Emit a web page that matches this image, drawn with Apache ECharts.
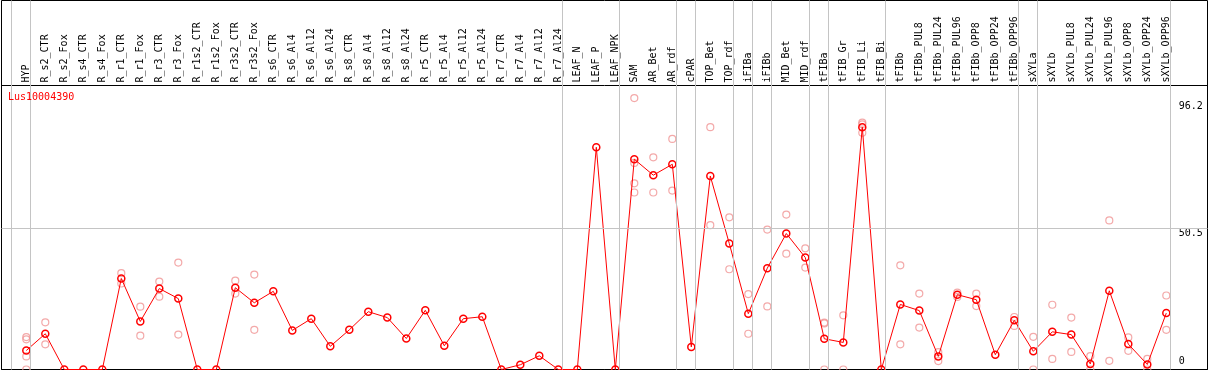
<!DOCTYPE html>
<html>
<head>
<meta charset="utf-8">
<script src="https://cdn.jsdelivr.net/npm/echarts@6/dist/echarts.min.js"></script>
<style>
html, body { margin: 0; padding: 0; background: #fff; }
#chart { width: 1209px; height: 370px; }
</style>
</head>
<body>
<div id="chart"></div>
<script>
const geneName = 'Lus10004390';

const categories = [
  'HYP', 'R_s2_CTR', 'R_s2_Fox', 'R_s4_CTR', 'R_s4_Fox', 'R_r1_CTR', 'R_r1_Fox', 'R_r3_CTR', 'R_r3_Fox',
  'R_r1s2_CTR', 'R_r1s2_Fox', 'R_r3s2_CTR', 'R_r3s2_Fox',
  'R_s6_CTR', 'R_s6_Al4', 'R_s6_Al12', 'R_s6_Al24', 'R_s8_CTR', 'R_s8_Al4', 'R_s8_Al12', 'R_s8_Al24',
  'R_r5_CTR', 'R_r5_Al4', 'R_r5_Al12', 'R_r5_Al24', 'R_r7_CTR', 'R_r7_Al4', 'R_r7_Al12', 'R_r7_Al24',
  'LEAF_N', 'LEAF_P', 'LEAF_NPK', 'SAM', 'AR_Bet', 'AR_rdf', 'cPAR', 'TOP_Bet', 'TOP_rdf',
  'iFIBa', 'iFIBb', 'MID_Bet', 'MID_rdf', 'tFIBa', 'tFIB_Gr', 'tFIB_Li', 'tFIB_Bi',
  'tFIBb', 'tFIBb_PUL8', 'tFIBb_PUL24', 'tFIBb_PUL96', 'tFIBb_OPP8', 'tFIBb_OPP24', 'tFIBb_OPP96',
  'sXYLa', 'sXYLb', 'sXYLb_PUL8', 'sXYLb_PUL24', 'sXYLb_PUL96', 'sXYLb_OPP8', 'sXYLb_OPP24', 'sXYLb_OPP96'
];

const meanValues = [
  6.8, 12.8, 0, 0, 0, 32.6, 17.2, 29.0, 25.4, 0,
  0, 29.3, 23.9, 28.0, 14.0, 18.2, 8.3, 14.2, 20.7, 18.6,
  11.1, 21.2, 8.5, 18.2, 18.9, 0, 1.7, 4.9, 0, 0,
  79.6, 0, 75.3, 69.6, 73.5, 8.1, 69.3, 45.1, 20.0, 36.3,
  48.7, 40.1, 11.0, 9.7, 86.8, 0, 23.3, 21.1, 4.7, 26.8,
  25.0, 5.3, 17.6, 6.5, 13.5, 12.5, 2.0, 28.2, 9.1, 1.8,
  20.2
];

const replicateValues = [
  [11.6, 10.8, 4.7, 0], [16.9, 9.0], [], [], [], [34.5, 30.8], [22.5, 12.1], [31.5, 26.1], [38.3, 12.5], [],
  [], [31.8, 27.2], [34.0, 14.2], [], [], [], [], [], [], [],
  [], [], [], [], [], [], [], [], [], [],
  [], [], [97.2, 74.0, 66.7, 63.4], [76.0, 63.4], [82.6, 64.1], [], [86.8, 51.7], [54.5, 35.9], [27.0, 12.8], [50.1, 22.6],
  [55.5, 41.5], [43.4, 36.5], [16.8, 16.5, 0], [19.4, 0], [88.4, 87.8, 84.8], [], [37.3, 9.0], [27.2, 15.0], [6.2, 3.0], [27.5, 26.0],
  [27.2, 22.7], [], [18.8, 15.6], [11.7, 0], [23.2, 3.8], [18.6, 6.3], [4.8, 0], [53.4, 3.1], [11.5, 6.7], [3.8, 0],
  [26.5, 14.2]
];

const yTickLabels = [0, 50.5, 96.2];

const groupEnds = [
  'HYP', 'R_r7_Al24', 'LEAF_NPK', 'AR_rdf', 'cPAR', 'TOP_rdf', 'iFIBa', 'iFIBb',
  'MID_rdf', 'tFIBa', 'tFIB_Bi', 'tFIBb_OPP96', 'sXYLa', 'sXYLb_OPP96'
];

// ---- layout / style ----
const FONT = 'DejaVu Sans Mono';
const Y_MAX = 101.72;
const BAND = 19;
const FIRST_CENTER = 26.3;
const FRAME_L = 1.5, FRAME_R = 1207.5;
const SEP_SHIFT = 4.2 / 19;
const GREY = '#c4c4c4';

const repData = [];
replicateValues.forEach((reps, i) => reps.forEach(v => repData.push([categories[i], v])));

const sepPositions = [-1 + SEP_SHIFT].concat(groupEnds.map(n => categories.indexOf(n) + SEP_SHIFT));

const chart = echarts.init(document.getElementById('chart'), null, { renderer: 'canvas' });

const hiddenAxisParts = {
  axisLine: { show: false }, axisTick: { show: false }, splitLine: { show: false }
};

chart.setOption({
  animation: false,
  backgroundColor: '#fff',
  title: {
    text: geneName, left: 8, top: 92, padding: 0,
    textStyle: { color: '#ff0000', fontFamily: FONT, fontSize: 10, fontWeight: 'normal' }
  },
  grid: [
    { left: FRAME_L, right: 1209 - FRAME_R, top: 0.5, bottom: 0.5, show: true,
      borderColor: '#000', borderWidth: 1, backgroundColor: 'transparent' },
    { left: FRAME_L, right: 1209 - FRAME_R, top: 85.5, bottom: 0.5, show: true,
      borderColor: '#000', borderWidth: 1, backgroundColor: 'transparent' },
    { left: FIRST_CENTER - BAND / 2, width: BAND * categories.length, top: 85.5, bottom: 0.5 }
  ],
  xAxis: [
    { gridIndex: 0, type: 'value', show: false,
      min: (FRAME_L - FIRST_CENTER) / BAND, max: (FRAME_R - FIRST_CENTER) / BAND },
    { gridIndex: 1, type: 'value', show: false, min: 0, max: 1 },
    Object.assign({
      gridIndex: 2, type: 'category', data: categories, position: 'top', boundaryGap: true,
      axisLabel: { interval: 0, rotate: 90, margin: 3, fontFamily: FONT, fontSize: 10, color: '#000' }
    }, hiddenAxisParts)
  ],
  yAxis: [
    { gridIndex: 0, type: 'value', show: false, min: 0, max: 1 },
    { gridIndex: 1, type: 'value', show: false, min: 0, max: Y_MAX },
    Object.assign({
      gridIndex: 2, type: 'value', min: 0, max: Y_MAX, position: 'right',
      axisLabel: { customValues: yTickLabels.filter(v => v > 0), verticalAlign: 'top', margin: 3,
        fontFamily: FONT, fontSize: 10, color: '#000', formatter: v => String(v) }
    }, hiddenAxisParts),
    Object.assign({
      gridIndex: 2, type: 'value', min: 0, max: Y_MAX, position: 'right',
      axisLabel: { customValues: yTickLabels.filter(v => v === 0), verticalAlign: 'bottom', margin: 3,
        padding: [0, 0, 3, 0], fontFamily: FONT, fontSize: 10, color: '#000', formatter: v => String(v) }
    }, hiddenAxisParts)
  ],
  series: [
    { type: 'line', xAxisIndex: 0, yAxisIndex: 0, data: [], silent: true,
      markLine: { silent: true, symbol: 'none', label: { show: false }, animation: false,
        lineStyle: { color: GREY, width: 1, type: 'solid' },
        data: sepPositions.map(x => ({ xAxis: x })) } },
    { type: 'line', xAxisIndex: 1, yAxisIndex: 1, data: [], silent: true,
      markLine: { silent: true, symbol: 'none', label: { show: false }, animation: false,
        lineStyle: { color: GREY, width: 1, type: 'solid' },
        data: [{ yAxis: yTickLabels[1] }] } },
    { type: 'scatter', xAxisIndex: 2, yAxisIndex: 2, data: repData, symbol: 'circle', symbolSize: 7,
      itemStyle: { color: 'transparent', borderColor: '#f09494', borderWidth: 1.2 }, z: 3 },
    { type: 'line', xAxisIndex: 2, yAxisIndex: 2, data: meanValues, symbol: 'circle', symbolSize: 7,
      showAllSymbol: true,
      lineStyle: { color: '#ff0000', width: 1 },
      itemStyle: { color: 'transparent', borderColor: '#ff0000', borderWidth: 1.5 }, z: 4 }
  ]
});
</script>
</body>
</html>
